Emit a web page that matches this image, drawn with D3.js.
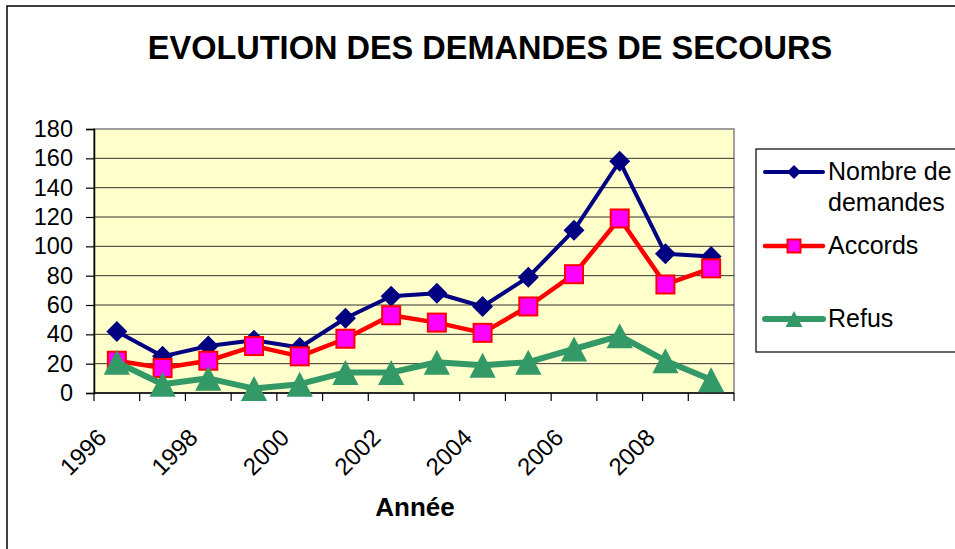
<!DOCTYPE html>
<html>
<head>
  <meta charset="utf-8">
  <title>Evolution des demandes de secours</title>
  <script src="https://cdn.jsdelivr.net/npm/d3@7"></script>
  <style>
    body { margin: 0; background: #fff; }
    text { font-family: "Liberation Sans", Arial, sans-serif; }
  </style>
</head>
<body>
  <svg id="chart" width="955" height="549"></svg>
  <script>
    // data
    const years = [1996, 1997, 1998, 1999, 2000, 2001, 2002, 2003, 2004, 2005, 2006, 2007, 2008, 2009];
    const demandes = [42, 25, 32, 36, 31, 51, 66, 68, 59, 79, 111, 158, 95, 93];
    const accords = [22, 17, 22, 32, 25, 37, 53, 48, 41, 59, 81, 119, 74, 85];
    const refus = [21, 6, 10, 3, 6, 14, 14, 21, 19, 21, 30, 39, 22, 9];
    const yTicks = [0, 20, 40, 60, 80, 100, 120, 140, 160, 180];
    const xLabels = [1996, 1998, 2000, 2002, 2004, 2006, 2008];

    const series = [
      { name: 'Nombre de demandes', lines: ['Nombre de', 'demandes'], values: demandes, color: '#000080', width: 4, marker: 'diamond' },
      { name: 'Accords', lines: ['Accords'], values: accords, color: '#ff0000', width: 4.5, marker: 'square' },
      { name: 'Refus', lines: ['Refus'], values: refus, color: '#339966', width: 6, marker: 'triangle' }
    ];

    const svg = d3.select('#chart');
    const plot = { left: 94, right: 734, top: 129, bottom: 393 };

    // outer chart frame (runs off the right / bottom edge like the original)
    svg.append('rect')
      .attr('x', 7).attr('y', 6).attr('width', 1000).attr('height', 600)
      .attr('fill', 'none').attr('stroke', '#000').attr('stroke-width', 1.5);

    svg.append('text')
      .attr('x', 490).attr('y', 59)
      .attr('text-anchor', 'middle')
      .attr('font-size', '32.5px').attr('font-weight', 'bold')
      .text('EVOLUTION DES DEMANDES DE SECOURS');

    const xScale = d3.scaleBand().domain(years).range([plot.left, plot.right]).padding(0);
    const cx = d => xScale(d) + xScale.bandwidth() / 2;
    const yScale = d3.scaleLinear().domain([0, 180]).range([plot.bottom, plot.top]);

    // plot background
    svg.append('rect')
      .attr('x', plot.left).attr('y', plot.top)
      .attr('width', plot.right - plot.left).attr('height', plot.bottom - plot.top)
      .attr('fill', '#ffffcc').attr('stroke', '#808080').attr('stroke-width', 1.5);

    // grid
    svg.append('g').selectAll('line').data(yTicks.filter(d => d > 0 && d < 180)).join('line')
      .attr('x1', plot.left).attr('x2', plot.right)
      .attr('y1', d => yScale(d)).attr('y2', d => yScale(d))
      .attr('stroke', '#333').attr('stroke-width', 1);

    // y axis
    const yAxis = d3.axisLeft(yScale).tickValues(yTicks).tickSize(8).tickPadding(13);
    const yg = svg.append('g').attr('transform', `translate(${plot.left},0)`).call(yAxis);
    yg.select('.domain').attr('stroke', '#000').attr('stroke-width', 1.5);
    yg.selectAll('.tick line').attr('stroke', '#000').attr('stroke-width', 1.2);
    yg.selectAll('.tick text').attr('font-size', '23.5px').attr('fill', '#000')
      .attr('font-family', '"Liberation Sans", Arial, sans-serif');

    // x axis: ticks on category boundaries, labels every other year
    const xg = svg.append('g').attr('transform', `translate(0,${plot.bottom})`);
    xg.append('line').attr('x1', plot.left).attr('x2', plot.right)
      .attr('stroke', '#000').attr('stroke-width', 1.5);
    xg.selectAll('.xtick').data(years.concat(['end'])).join('line')
      .attr('class', 'xtick')
      .attr('x1', d => d === 'end' ? plot.right : xScale(d))
      .attr('x2', d => d === 'end' ? plot.right : xScale(d))
      .attr('y1', 0).attr('y2', 8)
      .attr('stroke', '#000').attr('stroke-width', 1.2);
    xg.selectAll('.xlabel').data(xLabels).join('text')
      .attr('class', 'xlabel')
      .attr('text-anchor', 'end')
      .attr('font-size', '24px')
      .attr('transform', d => `translate(${cx(d) - 9},${46}) rotate(-45)`)
      .text(d => d);

    svg.append('text')
      .attr('x', 415).attr('y', 516)
      .attr('text-anchor', 'middle')
      .attr('font-size', '26px').attr('font-weight', 'bold')
      .text('Année');

    // marker shapes
    const drawMarker = function (sel, s, size) {
      if (s.marker === 'diamond') {
        sel.append('path')
          .attr('d', `M0,${-size}L${size},0L0,${size}L${-size},0Z`)
          .attr('fill', s.color);
      } else if (s.marker === 'square') {
        sel.append('rect')
          .attr('x', -size).attr('y', -size).attr('width', size * 2).attr('height', size * 2)
          .attr('fill', '#ff00ff').attr('stroke', '#ff0000').attr('stroke-width', 2);
      } else {
        sel.append('path')
          .attr('d', `M0,${-size}L${size * 1.05},${size}L${-size * 1.05},${size}Z`)
          .attr('fill', s.color);
      }
    };

    const line = d3.line().x((d, i) => cx(years[i])).y(d => yScale(d));
    const markerSize = { diamond: 10.5, square: 9, triangle: 12.5 };

    series.forEach(s => {
      const sg = svg.append('g');
      sg.append('path').datum(s.values)
        .attr('d', line)
        .attr('fill', 'none').attr('stroke', s.color)
        .attr('stroke-width', s.width).attr('stroke-linejoin', 'round');
      sg.selectAll('.pt').data(s.values).join('g')
        .attr('class', 'pt')
        .attr('transform', (d, i) => `translate(${cx(years[i])},${yScale(d)})`)
        .each(function () { drawMarker(d3.select(this), s, markerSize[s.marker]); });
    });

    // legend
    const lg = svg.append('g');
    lg.append('rect')
      .attr('x', 756).attr('y', 149).attr('width', 260).attr('height', 203)
      .attr('fill', '#fff').attr('stroke', '#000').attr('stroke-width', 1.2);
    const legendY = [172, 246, 319];
    const legendSize = { diamond: 7, square: 6.5, triangle: 8 };
    series.forEach((s, i) => {
      const y = legendY[i];
      lg.append('line')
        .attr('x1', 765).attr('x2', 823).attr('y1', y).attr('y2', y)
        .attr('stroke', s.color).attr('stroke-width', s.width).attr('stroke-linecap', 'round');
      const m = lg.append('g').attr('transform', `translate(794,${y})`);
      drawMarker(m, s, legendSize[s.marker]);
      s.lines.forEach((t, k) => {
        lg.append('text')
          .attr('x', 828).attr('y', y + 8 + k * 31)
          .attr('font-size', '25px')
          .text(t);
      });
    });
  </script>
</body>
</html>
